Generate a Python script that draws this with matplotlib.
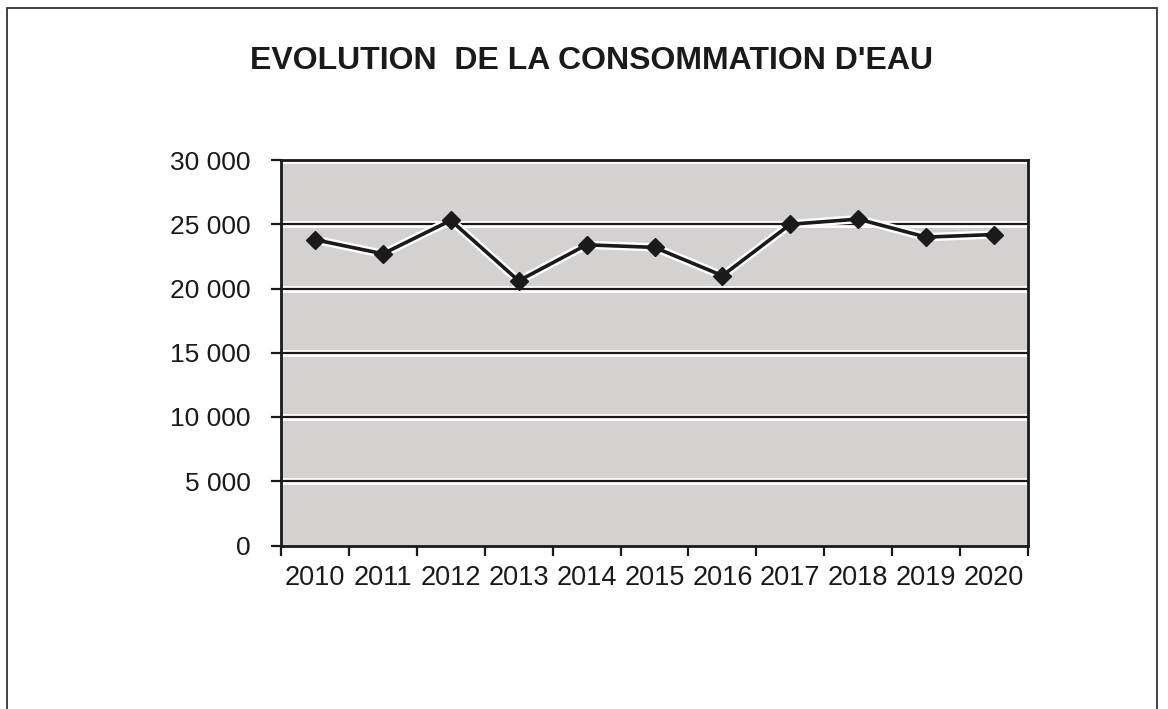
import matplotlib
matplotlib.use("Agg")
import matplotlib.pyplot as plt
import matplotlib.patheffects as pe
from matplotlib.patches import Rectangle
from matplotlib.ticker import FuncFormatter, FixedLocator

# ── Data ───────────────────────────────────────────────────────────────────
years = ["2010", "2011", "2012", "2013", "2014", "2015",
         "2016", "2017", "2018", "2019", "2020"]
consommation = [23800, 22700, 25300, 20600, 23400, 23200,
                21000, 25000, 25400, 24000, 24200]
title = "EVOLUTION  DE LA CONSOMMATION D'EAU"

# ── Style ──────────────────────────────────────────────────────────────────
plt.rcParams["font.family"] = ["Liberation Sans", "DejaVu Sans"]
PLOT_BG = "#d5d1d1"
INK     = "#1a1a1a"
halo    = [pe.withStroke(linewidth=5, foreground="white")]

fig = plt.figure(figsize=(11.68, 7.09), dpi=100)
fig.patch.set_facecolor("white")

# outer frame of the scanned chart (bottom edge is cut off)
fig.patches.append(Rectangle((7 / 1168, -0.05), 1150 / 1168, 1.05 - 8 / 709,
                             transform=fig.transFigure, fill=False,
                             edgecolor="#333333", lw=1.3))

ax = fig.add_axes([281 / 1168, 1 - 545.5 / 709, 747 / 1168, 385.5 / 709])
ax.set_facecolor(PLOT_BG)

x = list(range(len(years)))
ax.set_xlim(-0.5, len(years) - 0.5)
ax.set_ylim(0, 30000)

# horizontal gridlines with a light halo
for v in range(5000, 30001, 5000):
    ax.axhline(v, color=INK, lw=1.6, zorder=1, path_effects=halo)

# line: white halo drawn first, then the black line with diamonds
ax.plot(x, consommation, color="white", lw=6, zorder=2)
ax.plot(x, consommation, color=INK, lw=2.6, marker="D", markersize=9.5,
        markerfacecolor=INK, markeredgecolor=INK, zorder=3)

# y axis
ax.yaxis.set_major_locator(FixedLocator(range(0, 30001, 5000)))
ax.yaxis.set_major_formatter(FuncFormatter(lambda v, _: f"{int(v):,}".replace(",", " ")))
ax.tick_params(axis="y", direction="out", length=7, width=1.6, color=INK,
               pad=15, labelsize=19, labelcolor=INK)

# x axis: labels centred, tick marks between categories
ax.set_xticks(x)
ax.set_xticklabels(years)
ax.set_xticks([i - 0.5 for i in range(len(years) + 1)], minor=True)
ax.tick_params(axis="x", which="major", length=0, pad=14, labelsize=19.5,
               labelcolor=INK)
ax.tick_params(axis="x", which="minor", direction="out", length=7, width=1.6,
               color=INK)

for s in ax.spines.values():
    s.set_color(INK)
    s.set_linewidth(2)

fig.text(592 / 1168, 1 - 61 / 709, title, ha="center", va="center",
         fontsize=23, fontweight="bold", color=INK)

fig.savefig("out.png", dpi=100)
